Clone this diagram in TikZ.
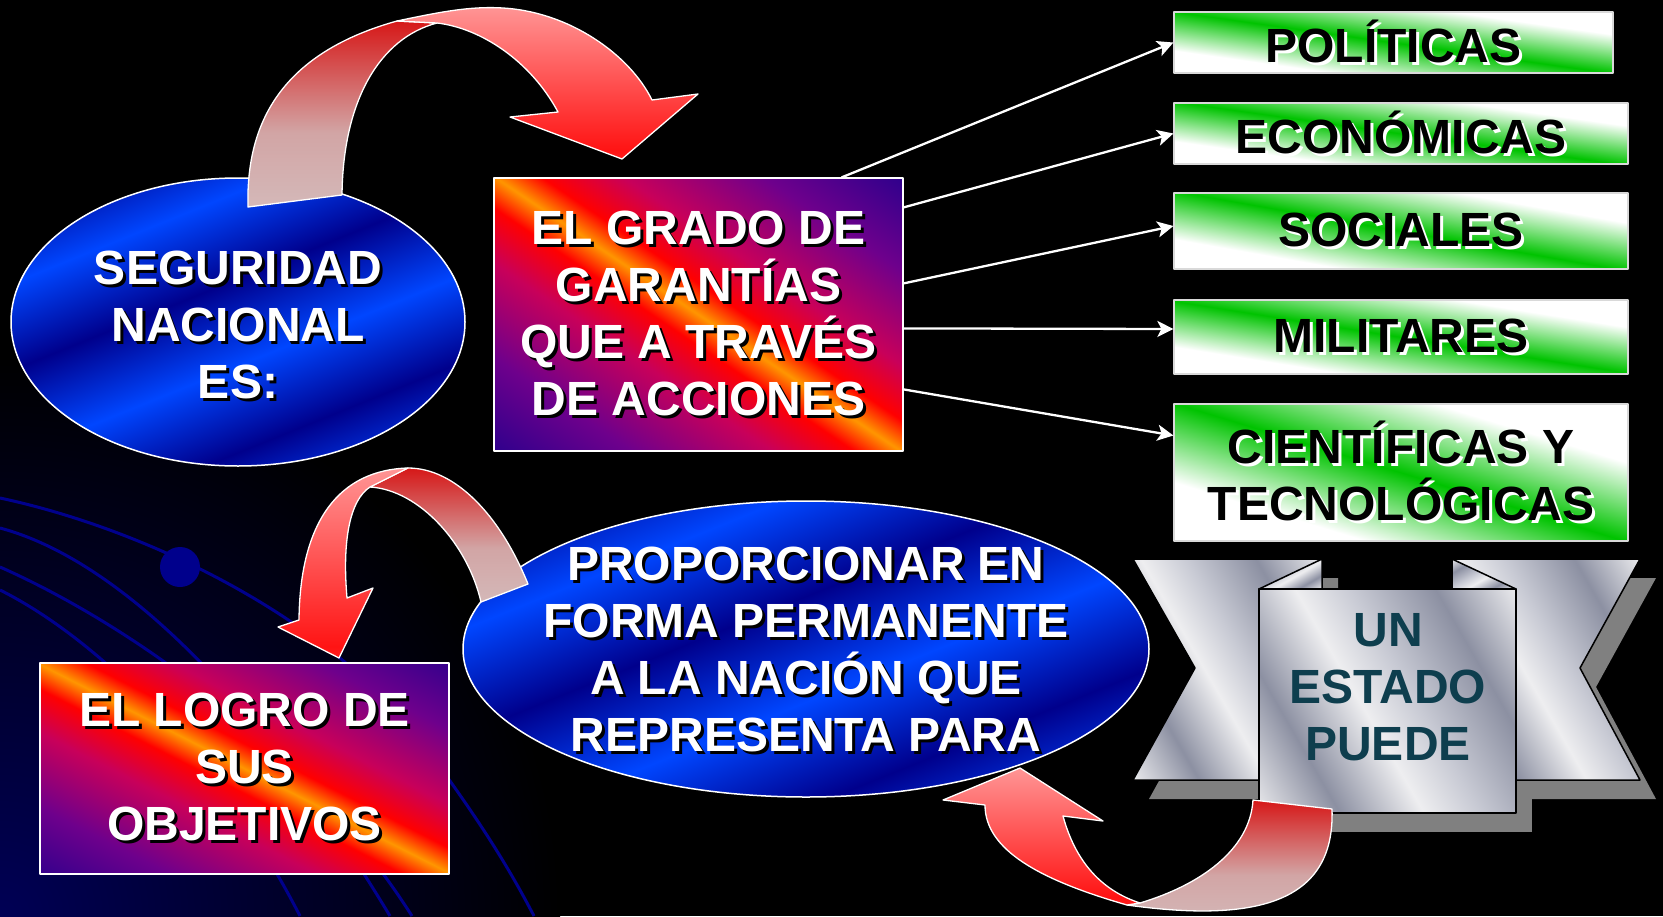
\documentclass[tikz,border=0pt]{standalone}
\usepackage{fontspec}
\setmainfont{Liberation Sans}
\usetikzlibrary{arrows.meta}

\definecolor{fondoazul}{RGB}{0,0,85}
\definecolor{curva}{RGB}{0,0,140}
\definecolor{azulosc}{RGB}{0,0,140}
\definecolor{azulcla}{RGB}{0,70,255}
\definecolor{fazul}{RGB}{30,0,140}
\definecolor{fmorado}{RGB}{110,0,140}
\definecolor{fmagenta}{RGB}{200,0,90}
\definecolor{frojo}{RGB}{255,0,0}
\definecolor{fnaranja}{RGB}{255,150,0}
\definecolor{verdefuerte}{RGB}{0,195,0}
\definecolor{plata1}{RGB}{238,238,240}
\definecolor{plata2}{RGB}{140,144,162}
\definecolor{plata3}{RGB}{200,202,212}
\definecolor{gris}{RGB}{128,128,128}
\definecolor{rgris}{RGB}{214,208,208}
\definecolor{rgrisrosa}{RGB}{210,165,165}
\definecolor{rrojo}{RGB}{215,0,0}
\definecolor{rrosa}{RGB}{205,100,100}
\definecolor{rclaro}{RGB}{255,218,218}
\definecolor{rvivo}{RGB}{255,20,20}
\definecolor{rpunta}{RGB}{255,95,95}
\definecolor{textoazul}{RGB}{14,62,78}

\pgfdeclarehorizontalshading{fuego}{100bp}{color(0bp)=(fazul); color(12bp)=(fazul); color(27bp)=(fmorado); color(39bp)=(fmagenta); color(46bp)=(frojo); color(50bp)=(fnaranja); color(54bp)=(frojo); color(61bp)=(fmagenta); color(73bp)=(fmorado); color(88bp)=(fazul); color(100bp)=(fazul)}
\pgfdeclarehorizontalshading{verdeclaro}{100bp}{color(0bp)=(white); color(32bp)=(white); color(50bp)=(verdefuerte); color(68bp)=(white); color(100bp)=(white)}
\pgfdeclarehorizontalshading{azulmetal}{100bp}{color(0bp)=(azulosc); color(20bp)=(azulcla); color(32bp)=(azulosc); color(44bp)=(azulcla); color(56bp)=(azulosc); color(68bp)=(azulcla); color(80bp)=(azulosc); color(100bp)=(azulcla)}
\pgfdeclarehorizontalshading{plata}{100bp}{color(0bp)=(plata2); color(15bp)=(plata1); color(30bp)=(plata2); color(45bp)=(plata1); color(55bp)=(plata3); color(70bp)=(plata2); color(85bp)=(plata1); color(100bp)=(plata2)}
\pgfdeclareverticalshading{colacinta}{100bp}{color(0bp)=(rgris); color(45bp)=(rgrisrosa); color(80bp)=(rrojo); color(100bp)=(rrosa)}
\pgfdeclareverticalshading{puntacinta}{100bp}{color(0bp)=(rpunta); color(28bp)=(rvivo); color(100bp)=(rclaro)}

\newcommand\sombra[2]{\leavevmode\rlap{\kern3pt\raisebox{-3pt}{\color{#1}#2}}#2}
\newcommand\blanca[1]{\sombra{black}{#1}}
\newcommand\negra[1]{\sombra{white}{#1}}

\begin{document}
\begin{tikzpicture}[x=1pt,y=-1pt,line join=round,
  >={Stealth[length=16pt,width=16pt,inset=4pt]},
  texto/.style={align=center,font=\fontsize{48}{57}\selectfont\bfseries,inner sep=0pt},
  caja/.style={texto,text=white,draw=white,line width=1.2pt,shade,shading=fuego},
  verde/.style={texto,text=black,draw=white!85!black,line width=1.2pt,shade,shading=verdeclaro},
  globo/.style={draw=white,line width=1.5pt,shading=azulmetal,shading angle=112},
  flecha/.style={draw=white,line width=2.3pt,->},
  banda/.style={draw=black,line width=1.5pt,shading=plata,shading angle=30},
  cola/.style={draw=white,line width=1.3pt,shading=colacinta},
  punta/.style={draw=white,line width=1.3pt,shading=puntacinta}]
\useasboundingbox (0,0) rectangle (1663,916);
\fill[black] (0,0) rectangle (1663,916);
\begin{scope}
\clip (0,0) rectangle (1663,916);
\shade[inner color=fondoazul,outer color=black] (0,916) circle (560);
\end{scope}
\draw[curva,line width=3pt] (0,498) .. controls (150,530) and (330,620) .. (420,740) .. controls (480,820) and (510,870) .. (534,916);
\draw[curva,line width=3pt] (0,528) .. controls (120,560) and (260,700) .. (390,916);
\draw[curva,line width=3pt] (0,567) .. controls (120,620) and (300,740) .. (412,916);
\draw[curva,line width=3pt] (0,590) .. controls (100,640) and (220,760) .. (300,916);
\fill[curva] (180,567) circle (20);

\shadedraw[globo] (238,322) ellipse [x radius=227,y radius=144];
\node[texto,text=white] (seg) at (238,326) {\blanca{SEGURIDAD}\\\blanca{NACIONAL}\\\blanca{ES:}};

\shadedraw[cola] (248,207) .. controls (246,130) and (275,55) .. (397,21) -- (437,23) .. controls (380,38) and (343,100) .. (342,195) -- cycle;
\shadedraw[punta] (397,21) .. controls (440,12) and (470,6) .. (503,8) .. controls (570,12) and (630,55) .. (652,100) -- (698,94) -- (622,159) -- (510,117) -- (558,112) .. controls (530,60) and (480,28) .. (437,23) -- cycle;

\node[caja,shading angle=56,minimum width=409pt,minimum height=273pt] (grado) at (698.5,314.5) {\blanca{EL GRADO DE}\\\blanca{GARANTÍAS}\\\blanca{QUE A TRAVÉS}\\\blanca{DE ACCIONES}};

\foreach \nom/\x/\y/\w/\h/\ang/\txt in {polit/1393.5/42.5/439/61/82/{\negra{POLÍTICAS}},
  econ/1401/133.5/454/61/82/{\negra{ECONÓMICAS}},
  soc/1401/231/454/76/80/{\negra{SOCIALES}},
  mil/1401/337/454/74/81/{\negra{MILITARES}},
  cien/1401/472.5/454/137/73/{\negra{CIENTÍFICAS Y}\\\negra{TECNOLÓGICAS}}}
  \node[verde,shading angle=\ang,minimum width=\w pt,minimum height=\h pt] (\nom) at (\x,\y) {\txt};

\draw[flecha] ([xshift=-62pt]grado.north east) -- (polit.west);
\foreach \a/\b/\c in {30/econ/0,106/soc/5,151/mil/8,212/cien/37}
  \draw[flecha] ([yshift=-\a pt]grado.north east) -- ([yshift=\c pt]\b.west);

\shadedraw[globo] (806,649) ellipse [x radius=343,y radius=148];
\node[texto,text=white] (prop) at (806,651) {\blanca{PROPORCIONAR EN}\\\blanca{FORMA PERMANENTE}\\\blanca{A LA NACIÓN QUE}\\\blanca{REPRESENTA PARA}};

\shadedraw[cola] (481,602) -- (528,584) .. controls (500,515) and (455,468) .. (408,468) -- (370,487) .. controls (420,490) and (468,545) .. (481,602) -- cycle;
\shadedraw[punta] (408,468) .. controls (340,470) and (300,520) .. (299,620) -- (278,627) -- (339,658) -- (373,588) -- (347,598) .. controls (342,540) and (350,500) .. (370,487) -- cycle;

\node[caja,shading angle=63,minimum width=409pt,minimum height=211pt] (logro) at (244.5,768.5) {\blanca{EL LOGRO DE}\\\blanca{SUS}\\\blanca{OBJETIVOS}};

\def\izq{(1133,559) -- (1322,559) -- (1322,780) -- (1133,780) -- (1195,668) -- cycle}
\def\der{(1452,559) -- (1640,559) -- (1580,668) -- (1640,780) -- (1452,780) -- cycle}
\begin{scope}[shift={(16,19)}]
\fill[gris] \izq;
\fill[gris] \der;
\fill[gris] (1259,589) rectangle (1516,813);
\end{scope}
\shadedraw[banda] \izq;
\shadedraw[banda] \der;
\shadedraw[banda,shading angle=120] (1322,559) -- (1259,589) -- (1322,589) -- cycle;
\shadedraw[banda,shading angle=120] (1452,559) -- (1516,589) -- (1452,589) -- cycle;
\shadedraw[banda] (1259,589) rectangle (1516,813);
\node[texto,text=textoazul] (estado) at (1388,687) {UN\\ESTADO\\PUEDE};

\shadedraw[cola] (1253,800) -- (1332,809) .. controls (1335,895) and (1270,925) .. (1127,905) -- (1140,903) .. controls (1200,885) and (1250,850) .. (1253,800) -- cycle;
\shadedraw[punta] (1127,905) .. controls (1040,880) and (985,850) .. (985,805) -- (943,800) -- (1020,768) -- (1103,821) -- (1063,816) .. controls (1075,860) and (1100,890) .. (1140,903) -- cycle;
\end{tikzpicture}
\end{document}
